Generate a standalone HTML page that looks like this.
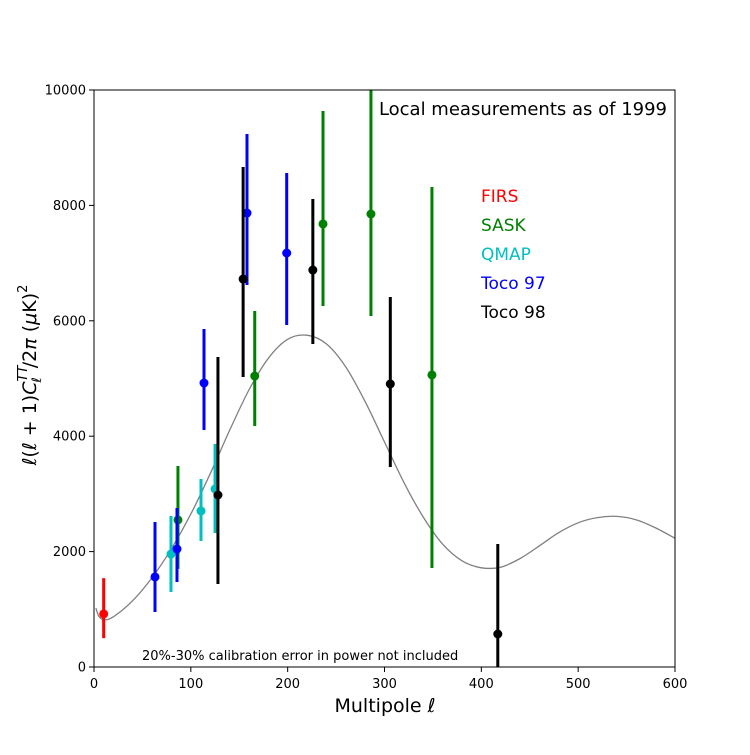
<!DOCTYPE html>
<html><head><meta charset="utf-8"><style>
body{margin:0;background:#fff}
svg text{font-family:"DejaVu Sans","Liberation Sans",sans-serif}
</style></head><body>
<svg id="chart" width="750" height="750" xmlns="http://www.w3.org/2000/svg">
<rect width="750" height="750" fill="#fff"/>
<g id="curve"></g>
<g id="marks"></g>
<rect x="94" y="90" width="581" height="577" fill="none" stroke="#000" stroke-width="1"/>
<g id="axes"></g>
<text x="667" y="115" text-anchor="end" font-size="18">Local measurements as of 1999</text>
<text x="142" y="660" font-size="13">20%-30% calibration error in power not included</text>
<text x="385" y="712" text-anchor="middle" font-size="19">Multipole <tspan font-style="italic">ℓ</tspan></text>
<text transform="translate(36,375) rotate(-90)" text-anchor="middle" font-size="19"><tspan font-style="italic">ℓ</tspan>(<tspan font-style="italic">ℓ</tspan> + 1)<tspan font-style="italic">C</tspan><tspan font-size="13" dy="-9" font-style="italic">TT</tspan><tspan font-size="13" dy="14" dx="-17" font-style="italic">ℓ</tspan><tspan dy="-5" dx="9">/2</tspan><tspan font-style="italic">π</tspan> (<tspan font-style="italic">μ</tspan>K)<tspan font-size="13" dy="-9">2</tspan></text>
<g id="legend"></g>
</svg>
<script>
const experiments = ["FIRS","SASK","QMAP","Toco 97","Toco 98"];
const colors = ["#ff0000","#008000","#00bfbf","#0000ff","#000000"];
const ptExp = [0,3,2,1,3,2,2,4,3,3,4,1,3,4,1,1,4,1,4];
const ptL   = [10,63,79.5,86.7,85.7,110.5,125,128,113.6,158,154,166,199,226,236.5,286,306,349,417];
const ptV   = [920,1560,1958,2548,2045,2704,3085,2981,4922,7868,6724,5043,7175,6880,7678,7851,4905,5061,572];
const ptHi  = [1540,2513,2617,3483,2756,3258,3865,5373,5858,9237,8665,6170,8562,8111,9636,10000,6412,8319,2132];
const ptLo  = [500,953,1300,1700,1473,2184,2322,1438,4107,6620,5026,4177,5927,5598,6256,6083,3466,1716,0];
const curveL = [2,5,10,20,40,60,80,100,120,140,160,180,200,220,240,260,280,300,320,340,360,380,400,420,440,460,480,500,520,540,560,580,600];
const curveV = [1020,880,820,870,1150,1550,2050,2650,3350,4100,4800,5350,5680,5750,5600,5200,4600,3900,3200,2600,2130,1840,1720,1730,1880,2100,2330,2500,2590,2610,2550,2410,2230];
const xTicks = [0,100,200,300,400,500,600];
const yTicks = [0,2000,4000,6000,8000,10000];
const NS="http://www.w3.org/2000/svg";
const X = l => 94 + l*581/600;
const Y = v => 667 - v*577/10000;
function mk(tag, attrs, parent){const e=document.createElementNS(NS,tag);for(const k in attrs)e.setAttribute(k,attrs[k]);parent.appendChild(e);return e;}
const P=curveL.map((l,i)=>[X(l),Y(curveV[i])]);
let d='M'+P[0][0].toFixed(1)+','+P[0][1].toFixed(1);
for(let i=0;i<P.length-1;i++){
  const p0=P[Math.max(0,i-1)],p1=P[i],p2=P[i+1],p3=P[Math.min(P.length-1,i+2)];
  const c1=[p1[0]+(p2[0]-p0[0])/6,p1[1]+(p2[1]-p0[1])/6];
  const c2=[p2[0]-(p3[0]-p1[0])/6,p2[1]-(p3[1]-p1[1])/6];
  d+='C'+c1.map(v=>v.toFixed(1)).join(',')+' '+c2.map(v=>v.toFixed(1)).join(',')+' '+p2.map(v=>v.toFixed(1)).join(',');
}
const cg=document.getElementById('curve');
const path=mk('path',{d:d,fill:'none',stroke:'#808080','stroke-width':1.3},cg);


const mg=document.getElementById('marks');
ptL.forEach((l,i)=>{
  const c=colors[ptExp[i]];
  const g=mk('g',{},mg);
  
  
  mk('line',{x1:X(l),x2:X(l),y1:Y(ptHi[i]),y2:Y(ptLo[i]),stroke:c,'stroke-width':3},g);
  mk('circle',{cx:X(l),cy:Y(ptV[i]),r:4.5,fill:c},g);
});
const ag=document.getElementById('axes');
xTicks.forEach(t=>{
  const l=mk('line',{x1:X(t),x2:X(t),y1:667,y2:672,stroke:'#000'},ag);
  
  
  const tx=mk('text',{x:X(t),y:688,'text-anchor':'middle','font-size':13},ag);
  tx.textContent=t;
  
  
});
yTicks.forEach(t=>{
  const l=mk('line',{x1:89,x2:94,y1:Y(t),y2:Y(t),stroke:'#000'},ag);
  
  
  const tx=mk('text',{x:86,y:Y(t)+4.5,'text-anchor':'end','font-size':13},ag);
  tx.textContent=t;
  
  
});
const lg=document.getElementById('legend');
experiments.forEach((n,i)=>{
  const tx=mk('text',{x:481,y:202+i*29,'font-size':17,fill:colors[i]},lg);
  tx.textContent=n;
  
  
});
</script>
</body></html>
